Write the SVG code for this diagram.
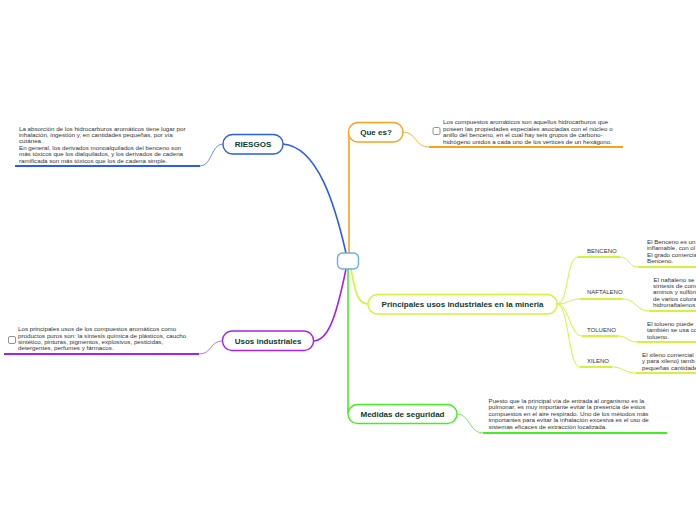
<svg xmlns="http://www.w3.org/2000/svg" width="696" height="520" viewBox="0 0 696 520">
<style>
.lbl{font-family:"Liberation Sans",Arial,sans-serif;font-weight:bold;font-size:8px;fill:#0d3b2e;text-anchor:middle}
.txt{font-family:"Liberation Sans",Arial,sans-serif;font-size:6.2px;fill:#333}
.sub{font-family:"Liberation Sans",Arial,sans-serif;font-size:6px;fill:#333}
.node{fill:#fff;stroke-width:1.4}
.thin{fill:none;stroke-width:1}
.main{fill:none;stroke-width:1.6}
.ul{fill:none;stroke-width:2}
.chk{fill:#fff;stroke:#777;stroke-width:0.8}
</style>
<rect width="696" height="520" fill="#fff"/>
<g id="connectors">
  <path class="main" stroke="#2a5cf0" d="M346,253 C335,205 318,147 283,144"/>
  <path class="main" stroke="#f7a21b" d="M349,253 L349,132"/>
  <path class="main" stroke="#d4f23a" d="M351,269 C355,292 358,304 368,304"/>
  <path class="main" stroke="#a523f2" d="M346,269 C336,318 328,341 313,341"/>
  <path class="main" stroke="#44ee22" d="M348,269 L348,414"/>
  <path class="thin" stroke="#6f8ff5" d="M223,144 C211,144 212,166 200,166"/>
  <path class="ul" stroke="#2a5cf0" d="M200,166 L15,166"/>
  <path class="thin" stroke="#f7b24a" d="M403,132 C417,132 414,147 429,147"/>
  <path class="ul" stroke="#f7a21b" d="M429,147 L623,147"/>
  <path class="thin" stroke="#c070f5" d="M222,341 C210,341 212,354 199,354"/>
  <path class="ul" stroke="#a523f2" d="M199,354 L4,354"/>
  <path class="thin" stroke="#77ee55" d="M457,414 C470,414 469,433 483,433"/>
  <path class="ul" stroke="#44ee22" d="M483,433 L667,433"/>
  <path class="thin" stroke="#d4f23a" d="M557,304 C569,304 566,257 578,257"/>
  <path class="ul" stroke="#d4f23a" d="M578,257 L620,257"/>
  <path class="thin" stroke="#d4f23a" d="M620,257 C630,257 628,267 638,267"/>
  <path class="ul" stroke="#d4f23a" d="M638,267 L696,267"/>
  <path class="thin" stroke="#d4f23a" d="M557,304 C569,304 568,299 580,299"/>
  <path class="ul" stroke="#d4f23a" d="M580,299 L623,299"/>
  <path class="thin" stroke="#d4f23a" d="M623,299 C636,299 636,311 649,311"/>
  <path class="ul" stroke="#d4f23a" d="M649,311 L696,311"/>
  <path class="thin" stroke="#d4f23a" d="M557,304 C569,304 570,336 582,336"/>
  <path class="ul" stroke="#d4f23a" d="M582,336 L618,336"/>
  <path class="thin" stroke="#d4f23a" d="M618,336 C628,336 627,342 637,342"/>
  <path class="ul" stroke="#d4f23a" d="M637,342 L696,342"/>
  <path class="thin" stroke="#d4f23a" d="M557,304 C569,304 568,367 580,367"/>
  <path class="ul" stroke="#d4f23a" d="M580,367 L612,367"/>
  <path class="thin" stroke="#d4f23a" d="M612,367 C624,367 624,373 636,373"/>
  <path class="ul" stroke="#d4f23a" d="M636,373 L696,373"/>
</g>
<g id="center">
  <rect class="node" x="337.5" y="253" width="21" height="16" rx="5" stroke="#6aaee0"/>
</g>
<g id="riesgos">
  <rect class="node" x="223" y="134.5" width="60" height="19.5" rx="9.5" stroke="#2a5cf0"/>
  <text class="lbl" x="253" y="147.3">RIESGOS</text>
</g>
<g id="riesgos-text">
  <text class="txt" x="19" y="130.5">La absorción de los hidrocarburos aromáticos tiene lugar por</text>
  <text class="txt" x="19" y="137">inhalación, ingestión y, en cantidades pequeñas, por vía</text>
  <text class="txt" x="19" y="143.4">cutánea.</text>
  <text class="txt" x="19" y="149.8">En general, los derivados monoalquilados del benceno son</text>
  <text class="txt" x="19" y="156.2">más tóxicos que los dialquilados, y los derivados de cadena</text>
  <text class="txt" x="19" y="162.6">ramificada son más tóxicos que los de cadena simple.</text>
</g>
<g id="quees">
  <rect class="node" x="348.5" y="122.5" width="54.5" height="19.5" rx="9.5" stroke="#f7a21b"/>
  <text class="lbl" x="376" y="135.2">Que es?</text>
</g>
<g id="quees-text">
  <rect class="chk" x="433" y="127.5" width="7" height="7" rx="1.5"/>
  <text class="txt" x="443" y="124">Los compuestos aromáticos son aquellos hidrocarburos que</text>
  <text class="txt" x="443" y="130.6">poseen las propiedades especiales asociadas con el núcleo o</text>
  <text class="txt" x="443" y="137.2">anillo del benceno, en el cual hay seis grupos de carbono-</text>
  <text class="txt" x="443" y="143.8">hidrógeno unidos a cada uno de los vértices de un hexágono.</text>
</g>
<g id="principales">
  <rect class="node" x="368" y="294.5" width="189" height="19.5" rx="9.5" stroke="#d4f23a"/>
  <text class="lbl" x="462.5" y="307">Principales usos industriales en la mineria</text>
</g>
<g id="benceno">
  <text class="sub" x="587" y="253">BENCENO</text>
  <text class="txt" x="647" y="243.8">El Benceno es un</text>
  <text class="txt" x="647" y="250.3">inflamable, con ol</text>
  <text class="txt" x="647" y="256.8">El grado comercia</text>
  <text class="txt" x="647" y="263.3">Benceno.</text>
</g>
<g id="naftaleno">
  <text class="sub" x="587" y="294">NAFTALENO</text>
  <text class="txt" x="653.5" y="281.5">El naftaleno se</text>
  <text class="txt" x="653" y="288">síntesis de com</text>
  <text class="txt" x="653" y="294.4">aminos y sulfón</text>
  <text class="txt" x="653" y="300.8">de varios colora</text>
  <text class="txt" x="653" y="307.2">hidronaftalenos</text>
</g>
<g id="tolueno">
  <text class="sub" x="587" y="332.2">TOLUENO</text>
  <text class="txt" x="647" y="325.5">El tolueno puede</text>
  <text class="txt" x="647" y="332">también se usa co</text>
  <text class="txt" x="647" y="338.5">tolueno.</text>
</g>
<g id="xileno">
  <text class="sub" x="587" y="363.2">XILENO</text>
  <text class="txt" x="642" y="356.5">El xileno comercial</text>
  <text class="txt" x="642" y="363">y para xileno) tamb</text>
  <text class="txt" x="642" y="369.5">pequeñas cantidade</text>
</g>
<g id="usos">
  <rect class="node" x="222.5" y="331" width="91" height="19.5" rx="9.5" stroke="#a523f2"/>
  <text class="lbl" x="268" y="343.6">Usos industriales</text>
</g>
<g id="usos-text">
  <rect class="chk" x="8.5" y="336.5" width="7" height="7" rx="1.5"/>
  <text class="txt" x="18" y="331.2">Los principales usos de los compuestos aromáticos como</text>
  <text class="txt" x="18" y="337.5">productos puros son: la síntesis química de plásticos, caucho</text>
  <text class="txt" x="18" y="343.8">sintético, pinturas, pigmentos, explosivos, pesticidas,</text>
  <text class="txt" x="18" y="350.1">detergentes, perfumes y fármacos.</text>
</g>
<g id="medidas">
  <rect class="node" x="348" y="404.5" width="109" height="19" rx="9.5" stroke="#44ee22"/>
  <text class="lbl" x="402.5" y="416.8">Medidas de seguridad</text>
</g>
<g id="medidas-text">
  <text class="txt" x="488.5" y="403">Puesto que la principal vía de entrada al organismo es la</text>
  <text class="txt" x="488.5" y="409.4">pulmonar, es muy importante evitar la presencia de estos</text>
  <text class="txt" x="488.5" y="415.8">compuestos en el aire respirado. Uno de los métodos más</text>
  <text class="txt" x="488.5" y="422.2">importantes para evitar la inhalación excesiva es el uso de</text>
  <text class="txt" x="488.5" y="428.6">sistemas eficaces de extracción localizada.</text>
</g>
</svg>
